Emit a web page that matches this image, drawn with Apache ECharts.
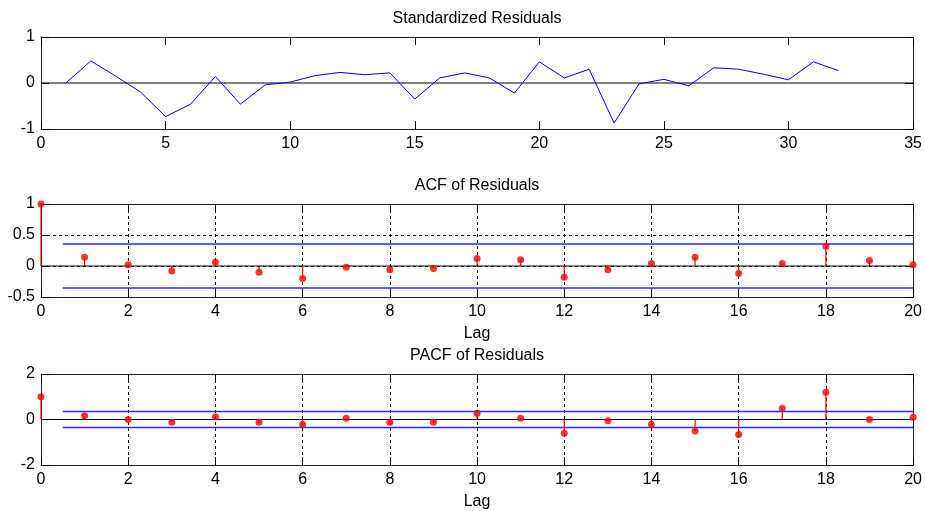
<!DOCTYPE html>
<html><head><meta charset="utf-8">
<script src="https://cdn.jsdelivr.net/npm/echarts@6/dist/echarts.min.js"></script>
<style>html,body{margin:0;padding:0;background:#fff}#c{width:925px;height:511px}</style>
</head><body><div id="c"></div>
<script>
const resX = [1,2,3,4,5,6,7,8,9,10,11,12,13,14,15,16,17,18,19,20,21,22,23,24,25,26,27,28,29,30,31,32];
const resY = [0.00,0.48,0.15,-0.20,-0.73,-0.46,0.14,-0.46,-0.04,0.02,0.16,0.23,0.18,0.22,-0.35,0.11,0.22,0.11,-0.22,0.46,0.11,0.30,-0.87,-0.02,0.08,-0.06,0.33,0.30,0.19,0.07,0.46,0.27];
const lags = [0,1,2,3,4,5,6,7,8,9,10,11,12,13,14,15,16,17,18,19,20];
const acfVals = [1.00,0.14,0.02,-0.08,0.06,-0.10,-0.20,-0.02,-0.06,-0.04,0.12,0.10,-0.18,-0.06,0.04,0.14,-0.12,0.04,0.32,0.09,0.02];
const pacfVals = [1.00,0.16,0.00,-0.12,0.12,-0.12,-0.22,0.06,-0.12,-0.12,0.28,0.06,-0.60,-0.06,-0.22,-0.50,-0.66,0.50,1.20,0.00,0.10];
const confBound = 0.354;
const boundStart = 0.5;
const titles = ['Standardized Residuals','ACF of Residuals','PACF of Residuals'];
const lagLabel = 'Lag';

const FONT = 'Liberation Sans, Arial, sans-serif';
const FS = 16;
const chart = echarts.init(document.getElementById('c'));

const grids = [
  {left:41, top:37, width:874, height:92},
  {left:41, top:204, width:874, height:93},
  {left:41, top:374, width:874, height:91}
];
const xr = [[0,35,5],[0,20,2],[0,20,2]];
const yr = [[-1,1,1],[-0.5,1,0.5],[-2,2,2]];
const dash = {show:true, lineStyle:{color:'#000', width:1, type:[3,3]}};

const xAxis = [], yAxis = [];
for (let i=0;i<3;i++){
  const sl = i===0 ? {show:false} : dash;
  xAxis.push({type:'value', gridIndex:i, position:'bottom', min:xr[i][0], max:xr[i][1], interval:xr[i][2],
    axisLine:{show:true, onZero:false, lineStyle:{color:'#222'}},
    axisTick:{show:true, inside:true, length:8, lineStyle:{color:'#000'}},
    axisLabel:{color:'#000', fontFamily:FONT, fontSize:FS, margin:7},
    splitLine:sl,
    name: i===0 ? '' : lagLabel, nameLocation:'middle', nameGap:29,
    nameTextStyle:{color:'#000', fontFamily:FONT, fontSize:FS}});
  xAxis.push({type:'value', gridIndex:i, position:'top', min:xr[i][0], max:xr[i][1], interval:xr[i][2],
    axisLine:{show:true, onZero:false, lineStyle:{color:'#222'}},
    axisTick:{show:true, inside:true, length:8, lineStyle:{color:'#000'}},
    axisLabel:{show:false}, splitLine:{show:false},
    name: titles[i], nameLocation:'middle', nameGap:10,
    nameTextStyle:{color:'#000', fontFamily:FONT, fontSize:FS}});
  yAxis.push({type:'value', gridIndex:i, position:'left', min:yr[i][0], max:yr[i][1], interval:yr[i][2],
    axisLine:{show:true, onZero:false, lineStyle:{color:'#222'}},
    axisTick:{show:true, inside:true, length:8, lineStyle:{color:'#000'}},
    axisLabel:{color:'#000', fontFamily:FONT, fontSize:FS, margin:6},
    splitLine:sl});
  yAxis.push({type:'value', gridIndex:i, position:'right', min:yr[i][0], max:yr[i][1], interval:yr[i][2],
    axisLine:{show:true, onZero:false, lineStyle:{color:'#222'}},
    axisTick:{show:true, inside:true, length:8, lineStyle:{color:'#000'}},
    axisLabel:{show:false}, splitLine:{show:false}});
}

function lineSeries(gi, data, color, width, z){
  return {type:'line', xAxisIndex:gi*2, yAxisIndex:gi*2, data:data, showSymbol:false, symbol:'none',
    lineStyle:{color:color, width:width}, itemStyle:{color:color}, silent:true, animation:false, z:z||2};
}
function stems(gi, vals){
  return {type:'custom', xAxisIndex:gi*2, yAxisIndex:gi*2, data:lags.map((l,k)=>[l, vals[k]]),
    renderItem:function(params, api){
      const p0 = api.coord([api.value(0), 0]);
      const p1 = api.coord([api.value(0), api.value(1)]);
      return {type:'line', shape:{x1:p0[0], y1:p0[1], x2:p1[0], y2:p1[1]}, style:{stroke:'#ff0000', lineWidth:1.2}};
    }, animation:false, silent:true, z:4};
}
function dots(gi, vals){
  return {type:'scatter', xAxisIndex:gi*2, yAxisIndex:gi*2, data:lags.map((l,k)=>[l, vals[k]]),
    symbol:'circle', symbolSize:7, itemStyle:{color:'#ff0000'}, animation:false, silent:true, z:5};
}

const series = [
  lineSeries(0, [[xr[0][0],0],[xr[0][1],0]], '#000', 1, 2),
  lineSeries(0, resX.map((x,k)=>[x,resY[k]]), '#0000ff', 1, 3),
];
[acfVals, pacfVals].forEach((vals, j)=>{
  const gi = j+1;
  series.push(lineSeries(gi, [[xr[gi][0],0],[xr[gi][1],0]], '#000', 1, 2));
  series.push(lineSeries(gi, [[boundStart,confBound],[lags[lags.length-1],confBound]], '#2a2aff', 1.6, 3));
  series.push(lineSeries(gi, [[boundStart,-confBound],[lags[lags.length-1],-confBound]], '#2a2aff', 1.6, 3));
  series.push(stems(gi, vals));
  series.push(dots(gi, vals));
});

chart.setOption({animation:false, backgroundColor:'#fff', grid:grids, xAxis:xAxis, yAxis:yAxis, series:series});
</script></body></html>
